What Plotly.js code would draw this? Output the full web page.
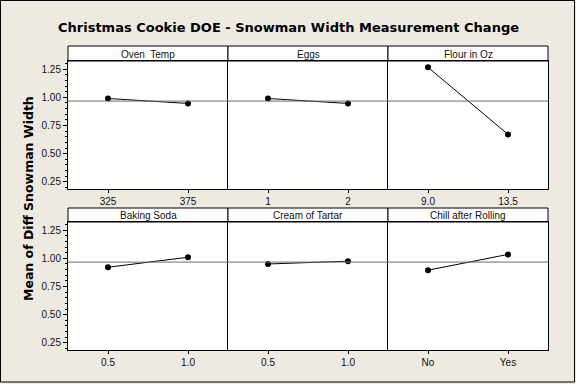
<!DOCTYPE html>
<html>
<head>
<meta charset="utf-8">
<script src="https://cdn.plot.ly/plotly-3.0.1.min.js"></script>
<style>html,body{margin:0;padding:0;background:#EEEAE1;}#chart{width:576px;height:384px;}</style>
</head>
<body>
<div id="chart"></div>
<script>
// ---- data ----
const factors = ["Oven\u00a0 Temp", "Eggs", "Flour in Oz", "Baking Soda", "Cream of Tartar", "Chill after Rolling"];
const levels = [
  ["325", "375"],
  ["1", "2"],
  ["9.0", "13.5"],
  ["0.5", "1.0"],
  ["0.5", "1.0"],
  ["No", "Yes"]
];
const means = [
  [0.990, 0.946],
  [0.990, 0.946],
  [1.267, 0.671],
  [0.921, 1.010],
  [0.950, 0.975],
  [0.895, 1.035]
];
const overallMean = 0.967;
const yTickVals = [0.25, 0.50, 0.75, 1.00, 1.25];
const yTickText = ["0.25", "0.50", "0.75", "1.00", "1.25"];
const chartTitle = "Christmas Cookie DOE - Snowman Width Measurement Change";
const yTitle = "Mean of Diff Snowman Width";

// ---- layout geometry (pixels) ----
const W = 576, H = 384;
const colX = [[68, 228], [228, 388], [388, 548]];
const rowY = [{head: 46, top: 61, bot: 189}, {head: 208, top: 222, bot: 350}];
const px = v => v / W;
const py = v => 1 - v / H;
const yRange = [0.186, 1.323];
const tickFont = {family: "Liberation Sans, Arial, sans-serif", size: 10, color: "#111"};

const traces = [];
const layout = {
  width: W, height: H,
  margin: {l: 0, r: 0, t: 0, b: 0},
  paper_bgcolor: "#EEEAE1",
  plot_bgcolor: "#FFFFFF",
  showlegend: false,
  shapes: [],
  annotations: []
};

factors.forEach((f, i) => {
  const r = Math.floor(i / 3), c = i % 3;
  const n = i + 1;
  const xa = "x" + (n === 1 ? "" : n), ya = "y" + (n === 1 ? "" : n);
  const xk = "xaxis" + (n === 1 ? "" : n), yk = "yaxis" + (n === 1 ? "" : n);
  traces.push({
    x: levels[i], y: means[i], xaxis: xa, yaxis: ya,
    type: "scatter", mode: "lines+markers",
    line: {color: "#000", width: 1},
    marker: {color: "#000", size: 6},
    hoverinfo: "skip", cliponaxis: false
  });
  layout[xk] = {
    domain: [px(colX[c][0]), px(colX[c][1])],
    anchor: ya, type: "category", range: [-0.5, 1.5],
    showline: true, mirror: true, linecolor: "#000", linewidth: 1,
    showgrid: false, zeroline: false,
    ticks: "outside", ticklen: 3, tickcolor: "#000", tickwidth: 1,
    tickfont: tickFont, fixedrange: true
  };
  const ycfg = {
    domain: [py(rowY[r].bot), py(rowY[r].top)],
    anchor: xa, range: yRange,
    showline: true, mirror: c === 2, linecolor: "#000", linewidth: 1,
    showgrid: false, zeroline: false, fixedrange: true
  };
  if (c === 0) {
    Object.assign(ycfg, {
      tickmode: "array", tickvals: yTickVals, ticktext: yTickText,
      ticks: "outside", ticklen: 4, tickcolor: "#000", tickwidth: 1,
      tickfont: tickFont,
      minor: {dtick: 0.05, tick0: 0, ticks: "outside", ticklen: 2, tickcolor: "#000", tickwidth: 1}
    });
  } else {
    Object.assign(ycfg, {showticklabels: false, ticks: ""});
  }
  layout[yk] = ycfg;
  // overall mean reference line
  layout.shapes.push({
    type: "line", xref: xa + " domain", yref: ya,
    x0: 0, x1: 1, y0: overallMean, y1: overallMean,
    line: {color: "#6E6E6E", width: 1}
  });
  // header strip
  layout.shapes.push({
    type: "rect", xref: "paper", yref: "paper",
    x0: px(colX[c][0]), x1: px(colX[c][1]),
    y0: py(rowY[r].top), y1: py(rowY[r].head),
    fillcolor: "#FFFFFF", line: {color: "#000", width: 1}, layer: "below"
  });
  layout.annotations.push({
    text: f, xref: "paper", yref: "paper",
    x: px((colX[c][0] + colX[c][1]) / 2), y: py((rowY[r].head + rowY[r].top) / 2 + 0.5),
    xanchor: "center", yanchor: "middle", showarrow: false,
    font: {family: "Liberation Sans, Arial, sans-serif", size: 10, color: "#111"}
  });
});

// outer border
layout.shapes.push({
  type: "rect", xref: "paper", yref: "paper",
  x0: px(0.5), x1: px(574.5), y0: py(382), y1: py(0.5),
  line: {color: "#000", width: 1}, layer: "below"
});

layout.annotations.push({
  text: "<b>" + chartTitle + "</b>", xref: "paper", yref: "paper",
  x: px(288), y: py(27), xanchor: "center", yanchor: "middle", showarrow: false,
  font: {family: "DejaVu Sans, sans-serif", size: 13, color: "#000"}
});
layout.annotations.push({
  text: "<b>" + yTitle + "</b>", xref: "paper", yref: "paper",
  x: px(28), y: py(199), xanchor: "center", yanchor: "middle", showarrow: false,
  textangle: -90,
  font: {family: "DejaVu Sans, sans-serif", size: 12.5, color: "#000"}
});

Plotly.newPlot("chart", traces, layout, {displayModeBar: false, staticPlot: true});
</script>
</body>
</html>
